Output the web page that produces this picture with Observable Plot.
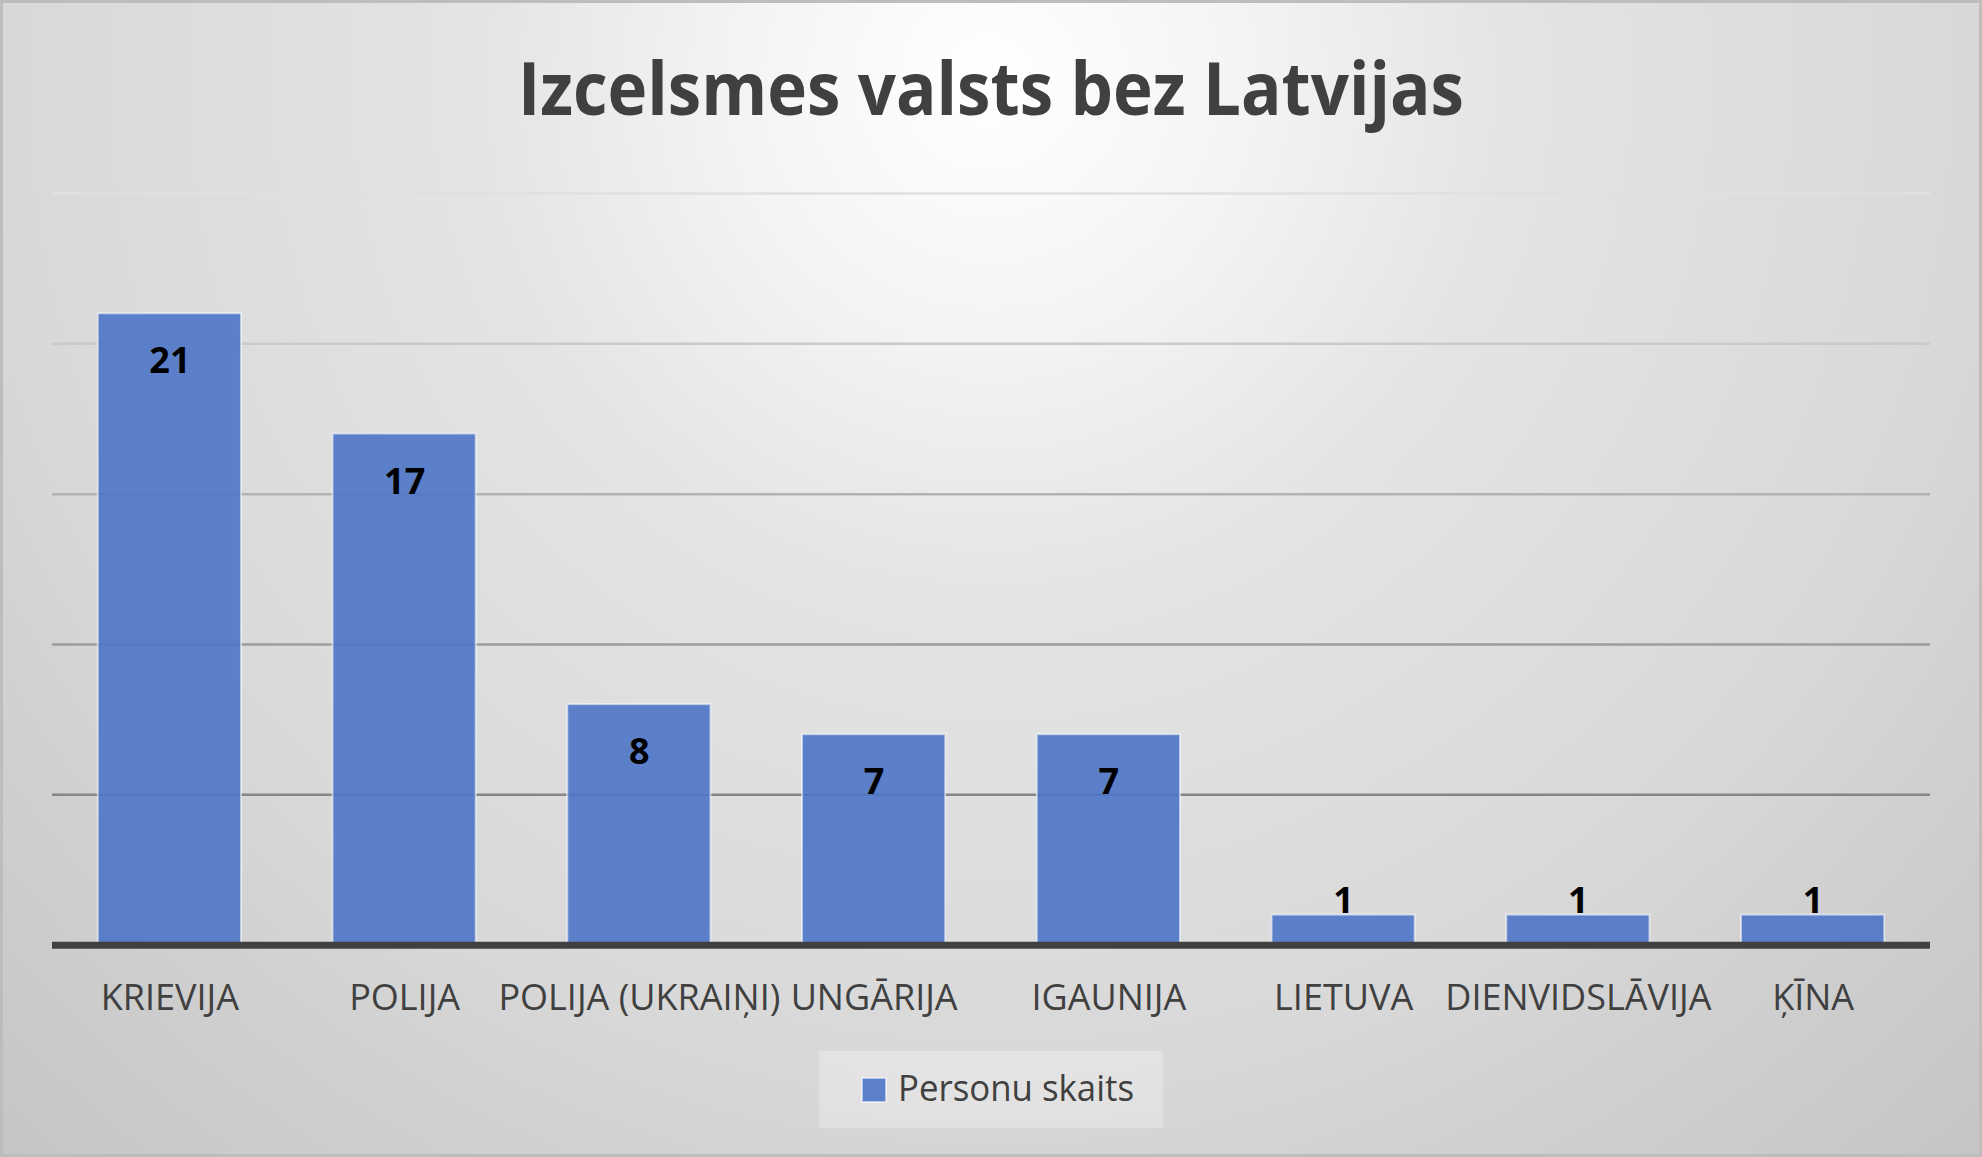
<!DOCTYPE html>
<html><head><meta charset="utf-8">
<script src="https://cdn.jsdelivr.net/npm/d3@7"></script>
<script src="https://cdn.jsdelivr.net/npm/@observablehq/plot@0.6"></script>
<style>
html,body{margin:0;padding:0;overflow:hidden;}
#chart{position:relative;width:1982px;height:1157px;overflow:hidden;
background: radial-gradient(circle 1500px at 991px 80px, #ffffff 0px, #f4f4f4 250px, #e4e4e4 520px, #d8d8d8 1000px, #d1d1d1 1150px, #c5c5c5 1470px);
box-shadow: inset 0 0 0 3px #bdbdbd; font-family:"Open Sans", sans-serif;}
#chart svg{display:block;}
</style></head><body><div id="chart"></div>
<script>
const titleText = "Izcelsmes valsts bez Latvijas";
const seriesName = "Personu skaits";
const countries = ["KRIEVIJA", "POLIJA", "POLIJA (UKRAIŅI)", "UNGĀRIJA", "IGAUNIJA", "LIETUVA", "DIENVIDSLĀVIJA", "ĶĪNA"];
const counts = [21, 17, 8, 7, 7, 1, 1, 1];
const gridTicks = [5, 10, 15, 20, 25];

const data = countries.map((c, i) => ({country: c, count: counts[i]}));
const chart = d3.select("#chart");
const barFill = "#4d76c6";

// Title
const tsvg = chart.append("svg").attr("width", 1982).attr("height", 160);
tsvg.append("text")
  .attr("x", 991).attr("y", 115)
  .attr("text-anchor", "middle")
  .attr("font-family", "Open Sans").attr("font-weight", 700)
  .attr("font-size", 74).attr("fill", "#404040")
  .attr("textLength", 946).attr("lengthAdjust", "spacingAndGlyphs")
  .text(titleText);

// Chart
const gridColor = d3.scaleLinear().domain([0, 25]).range(["#707070", "#e0e0e0"]);
const plot = Plot.plot({
  width: 1982,
  height: 880,
  marginTop: 33,
  marginBottom: 95.3,
  marginLeft: 52,
  marginRight: 52,
  style: {background: "transparent", color: "#404040", fontFamily: "Open Sans"},
  x: {domain: countries, paddingInner: 0.39, paddingOuter: 0.195, round: false, label: null},
  y: {domain: [0, 25], axis: null},
  marks: [
    Plot.ruleY(gridTicks, {stroke: d => gridColor(d), strokeWidth: 2.5}),
    Plot.barY(data, {x: "country", y: "count", fill: barFill, fillOpacity: 0.9,
      stroke: "#ffffff", strokeOpacity: 0.55, strokeWidth: 2}),
    Plot.ruleY([0], {stroke: "#404040", strokeWidth: 7}),
    Plot.text(data.filter(d => d.count >= 2), {x: "country", y: "count", text: d => String(d.count),
      lineAnchor: "top", dy: 34, fontSize: 36, fontWeight: 700, fill: "#000000"}),
    Plot.text(data.filter(d => d.count < 2), {x: "country", y: "count", text: d => String(d.count),
      lineAnchor: "bottom", dy: -2, fontSize: 36, fontWeight: 700, fill: "#000000"}),
    Plot.axisX({tickSize: 0, tickPadding: 39, fontSize: 36, fill: "#404040", label: null})
  ]
});
chart.node().appendChild(plot);

// Legend
const lsvg = chart.append("svg").attr("width", 1982).attr("height", 117);
lsvg.append("rect").attr("x", 819).attr("y", 11).attr("width", 344).attr("height", 77)
  .attr("fill", "#ffffff").attr("fill-opacity", 0.28);
lsvg.append("rect").attr("x", 862).attr("y", 38).attr("width", 24).attr("height", 24)
  .attr("fill", barFill).attr("fill-opacity", 0.9)
  .attr("stroke", "#ffffff").attr("stroke-opacity", 0.55).attr("stroke-width", 2);
lsvg.append("text").attr("x", 898).attr("y", 61)
  .attr("font-family", "Open Sans").attr("font-size", 36).attr("fill", "#404040")
  .attr("textLength", 236).attr("lengthAdjust", "spacingAndGlyphs")
  .text(seriesName);
</script>
</body></html>
